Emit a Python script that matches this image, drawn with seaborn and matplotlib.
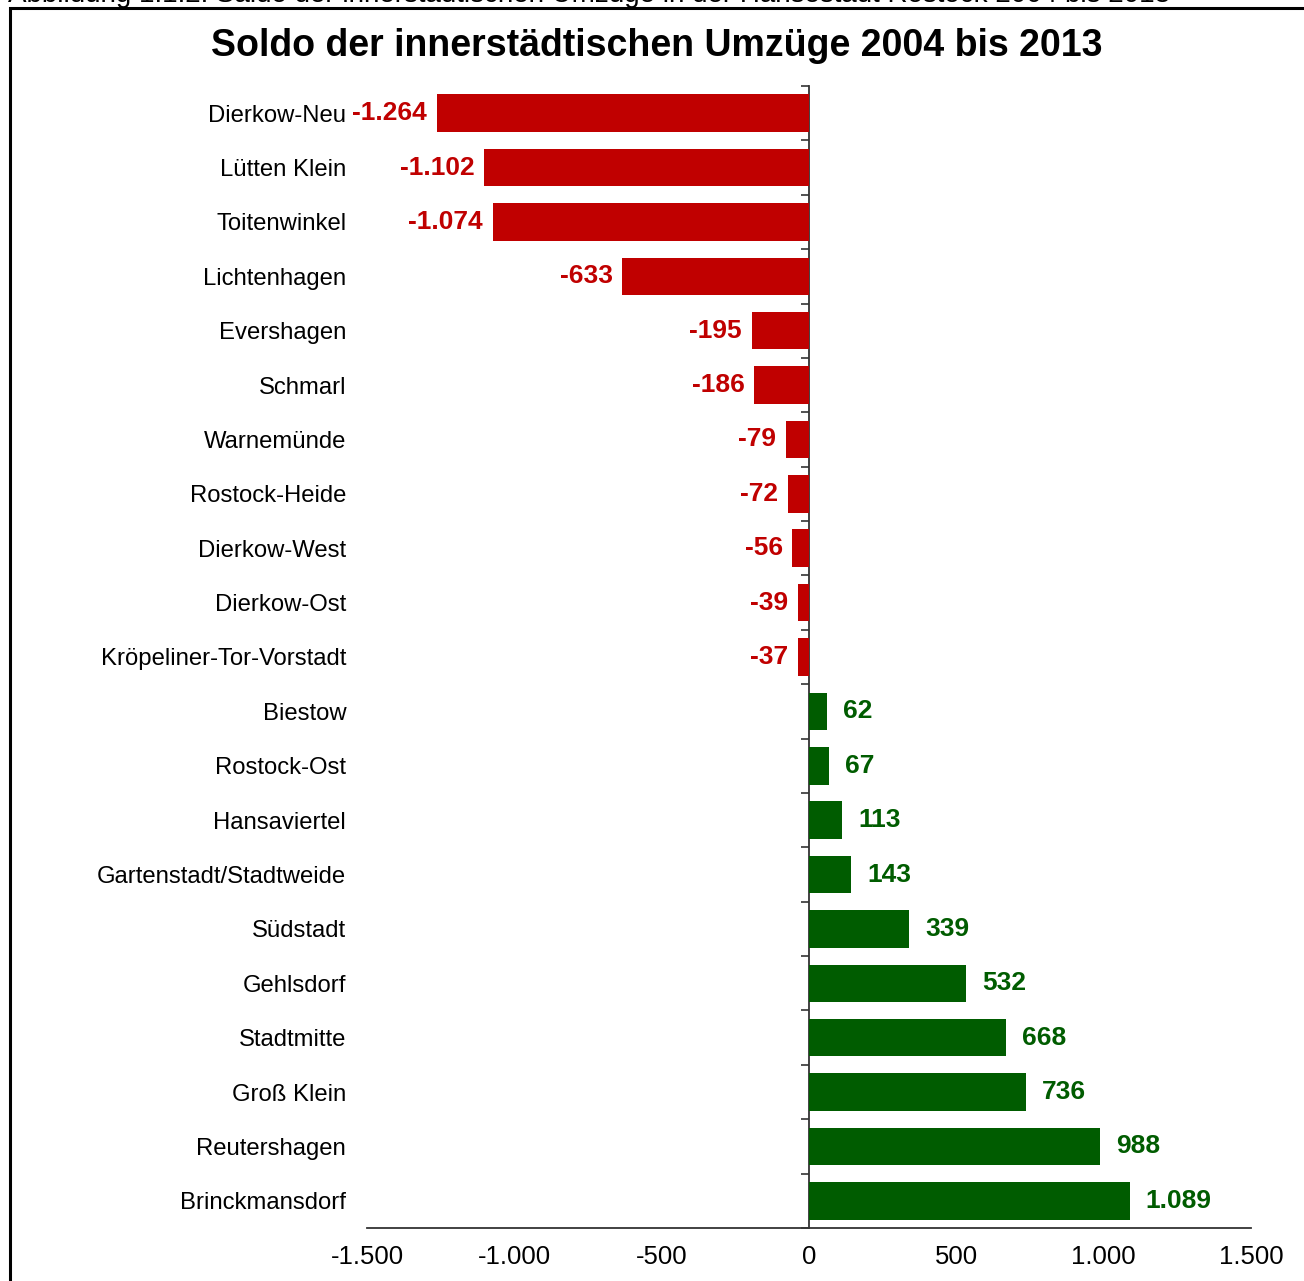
import matplotlib
matplotlib.use("Agg")
import matplotlib.pyplot as plt
import seaborn as sns
import pandas as pd
from matplotlib.ticker import FuncFormatter
from matplotlib.patches import Rectangle

# Net balance of moves within the city, per district
districts = [
    "Dierkow-Neu", "Lütten Klein", "Toitenwinkel", "Lichtenhagen", "Evershagen",
    "Schmarl", "Warnemünde", "Rostock-Heide", "Dierkow-West", "Dierkow-Ost",
    "Kröpeliner-Tor-Vorstadt", "Biestow", "Rostock-Ost", "Hansaviertel",
    "Gartenstadt/Stadtweide", "Südstadt", "Gehlsdorf", "Stadtmitte",
    "Groß Klein", "Reutershagen", "Brinckmansdorf",
]
saldo = [
    -1264, -1102, -1074, -633, -195, -186, -79, -72, -56, -39, -37,
    62, 67, 113, 143, 339, 532, 668, 736, 988, 1089,
]
x_ticks = [-1500, -1000, -500, 0, 500, 1000, 1500]

RED = "#C00000"
GREEN = "#005C00"

df = pd.DataFrame({"Stadtbereich": districts, "Saldo": saldo})
df["Richtung"] = ["neg" if v < 0 else "pos" for v in saldo]

sns.set_style("white")
plt.rcParams["font.family"] = ["Liberation Sans", "DejaVu Sans"]
plt.rcParams["text.color"] = "black"

W, H = 1304, 1281
fig = plt.figure(figsize=(W / 100, H / 100), dpi=100)
ax = fig.add_axes([367 / W, 1 - 1228 / H, (1251 - 367) / W, (1228 - 86) / H])

sns.barplot(
    data=df, y="Stadtbereich", x="Saldo", hue="Richtung",
    palette={"neg": RED, "pos": GREEN}, orient="h", width=0.69,
    dodge=False, legend=False, saturation=1, ax=ax, linewidth=0,
)

ax.set_xlim(-1500, 1500)
ax.set_ylim(len(districts) - 0.5, -0.5)
ax.set_xticks(x_ticks)
ax.xaxis.set_major_formatter(FuncFormatter(lambda v, _: f"{v:,.0f}".replace(",", ".")))
ax.set_xlabel("")
ax.set_ylabel("")

for side in ("top", "right", "left"):
    ax.spines[side].set_visible(False)
ax.spines["bottom"].set_color("#333333")
ax.spines["bottom"].set_linewidth(1.3)

ax.tick_params(axis="y", length=0, pad=15, labelsize=17.2, labelcolor="black")
ax.tick_params(axis="x", direction="out", length=6, width=1.2, color="#333333",
               pad=6, labelsize=18.5, labelcolor="black")

# Zero line with category separator ticks
zero_axis = ax.secondary_yaxis(0.5)
zero_axis.set_alignment("left")
zero_axis.set_yticks([i - 0.5 for i in range(len(districts) + 1)])
zero_axis.set_yticklabels([])
zero_axis.tick_params(direction="out", length=6, width=1.2, color="#333333")
zero_axis.spines["left"].set_color("#333333")
zero_axis.spines["left"].set_linewidth(1.3)

# Value labels
for i, v in enumerate(saldo):
    txt = f"{v:,}".replace(",", ".")
    if v < 0:
        ax.annotate(txt, xy=(v, i), xytext=(-7, 0), textcoords="offset points",
                    ha="right", va="center", fontsize=19, fontweight="bold", color=RED)
    else:
        ax.annotate(txt, xy=(v, i), xytext=(11.5, 0), textcoords="offset points",
                    ha="left", va="center", fontsize=19, fontweight="bold", color=GREEN)

# Title
fig.text(656.5 / W, 1 - 46 / H, "Soldo der innerstädtischen Umzüge 2004 bis 2013",
         ha="center", va="center", fontsize=27, fontweight="bold", color="black")

# Figure caption above the frame
fig.text(8 / W, 1 - 2 / H,
         "Abbildung 1.1.2: Saldo der innerstädtischen Umzüge in der Hansestadt Rostock 2004 bis 2013",
         ha="left", va="baseline", fontsize=20, color="black")

# Frame around the chart
fig.patches.append(Rectangle((10 / W, -0.1), 1.2, 1.1 - 8 / H, transform=fig.transFigure,
                             fill=False, edgecolor="black", linewidth=2.2))

fig.savefig("out.png", dpi=100)
